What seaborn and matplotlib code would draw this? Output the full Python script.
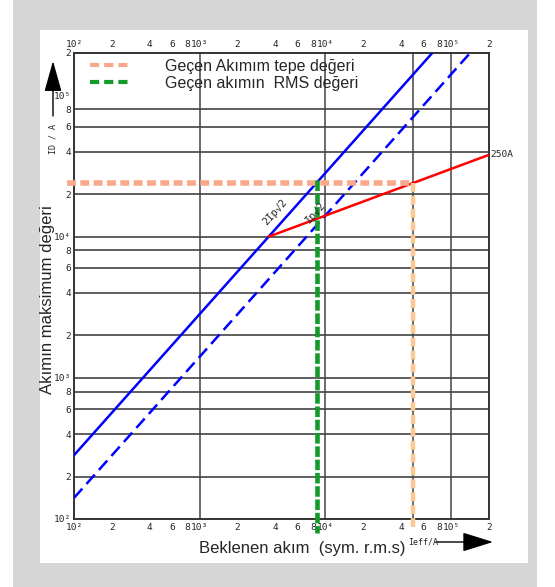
import numpy as np
import pandas as pd
import seaborn as sns
import matplotlib
matplotlib.use("Agg")
import matplotlib.pyplot as plt
from matplotlib.lines import Line2D
from matplotlib.patches import Rectangle
from matplotlib.ticker import FixedLocator, FixedFormatter, NullLocator

# ---------------- data ----------------
tick_values = [100, 200, 400, 600, 800, 1000, 2000, 4000, 6000, 8000,
               10000, 20000, 40000, 60000, 80000, 100000, 200000]
tick_labels = ["10²", "2", "4", "6", "8", "10³", "2", "4", "6", "8",
               "10⁴", "2", "4", "6", "8", "10⁵", "2"]
hgrid_values = [200, 400, 600, 800, 1000, 2000, 4000, 6000, 8000,
                10000, 20000, 40000, 60000, 80000]
vgrid_values = [1000, 10000, 50000, 100000]

# prospective current vs. peak lines
solid_x = [100, 70700]          # 2·Ip·√2
solid_y = [283, 200000]
dashed_x = [100, 141400]        # Ip·√2
dashed_y = [141, 200000]
red_x = [3536, 200000]          # 250A cut-off characteristic
red_y = [10000, 38000]

# reading lines
peak_h_x = [88, 50000]
peak_h_y = [24000, 24000]
peak_v_x = [50000, 50000]
peak_v_y = [24000, 86]
rms_v_x = [8500, 8500]
rms_v_y = [25200, 80]

legend_labels = ["Geçen Akımım tepe değeri", "Geçen akımın  RMS değeri"]

# ---------------- style ----------------
sns.set_theme(style="white")
plt.rcParams["font.family"] = ["Liberation Sans", "DejaVu Sans"]

W, H = 555, 587
fig = plt.figure(figsize=(W / 100, H / 100), dpi=100)
fig.patch.set_facecolor("white")

def fx(x):
    return x / W

def fy(y):
    return 1 - y / H

fig.patches.append(Rectangle((fx(13), 0), fx(537) - fx(13), 1,
                             transform=fig.transFigure, facecolor="#d6d6d6",
                             edgecolor="none", zorder=-10))
fig.patches.append(Rectangle((fx(40), fy(563)), fx(528) - fx(40), fy(30) - fy(563),
                             transform=fig.transFigure, facecolor="white",
                             edgecolor="none", zorder=-9))

ax = fig.add_axes([fx(74), fy(519), fx(489) - fx(74), fy(53) - fy(519)])
ax.set_facecolor("white")
ax.set_xscale("log")
ax.set_yscale("log")
ax.set_xlim(100, 200000)
ax.set_ylim(100, 200000)

for v in hgrid_values:
    ax.axhline(v, color="#333333", lw=1.1, zorder=1)
for v in vgrid_values:
    ax.axvline(v, color="#444444", lw=1.1, zorder=1)

common = dict(ax=ax, estimator=None, sort=False)
# characteristic lines
sns.lineplot(x=solid_x, y=solid_y, color="#0000ff", lw=1.8, zorder=3, **common)
sns.lineplot(x=dashed_x, y=dashed_y, color="#0000ff", lw=1.8,
             linestyle=(0, (5, 2.5)), zorder=3, **common)
sns.lineplot(x=red_x, y=red_y, color="#ff0000", lw=1.8, zorder=3, **common)

# reading lines
sns.lineplot(x=peak_h_x, y=peak_h_y, color="#f9a88a", lw=4,
             linestyle=(0, (1.6, 0.8)), clip_on=False, zorder=4, **common)
sns.lineplot(x=peak_v_x, y=peak_v_y, color="#fbc896", lw=3.2,
             linestyle=(0, (2.0, 0.9)), clip_on=False, zorder=4, **common)
sns.lineplot(x=rms_v_x, y=rms_v_y, color="#139a2b", lw=3.3,
             linestyle=(0, (2.3, 0.6)), clip_on=False, zorder=5, **common)

# ticks
mono = "DejaVu Sans Mono"
for axis in (ax.xaxis, ax.yaxis):
    axis.set_major_locator(FixedLocator(tick_values))
    axis.set_major_formatter(FixedFormatter(tick_labels))
    axis.set_minor_locator(NullLocator())
ax.tick_params(axis="x", which="both", length=0, pad=3, labelsize=6.8,
               top=False, labeltop=True, bottom=False, labelbottom=True)
ax.tick_params(axis="y", which="both", length=0, pad=2, labelsize=6.8,
               left=False, labelleft=True)
for lab in ax.xaxis.get_ticklabels() + ax.yaxis.get_ticklabels():
    lab.set_fontfamily(mono)

for s in ax.spines.values():
    s.set_color("#333333")
    s.set_linewidth(1.4)
    s.set_visible(True)

# annotations on lines
ax.text(3970, 14900, "2Ip√2", rotation=48, fontsize=7.5, family=mono,
        ha="center", va="center", zorder=6)
ax.text(8400, 14900, "Ip√2", rotation=48, fontsize=7.5, family=mono,
        ha="center", va="center", zorder=6)
ax.text(205000, 38000, "250A", fontsize=6.8, family=mono,
        ha="left", va="center", clip_on=False)

# legend
handles = [Line2D([], [], color="#f9a88a", lw=3, linestyle=(0, (2.2, 1.2))),
           Line2D([], [], color="#139a2b", lw=3, linestyle=(0, (2.2, 1.2)))]
fig.legend(handles, legend_labels, loc="upper left",
           bbox_to_anchor=(fx(90), fy(59)), frameon=False, fontsize=11.5,
           handlelength=2.4, handletextpad=2.3, labelspacing=0.12,
           borderpad=0, borderaxespad=0)

# axis titles
fig.text(fx(48), fy(300), "Akımın maksimum değeri", rotation=90,
         ha="center", va="center", fontsize=12)
fig.text(fx(302), fy(549), "Beklenen akım  (sym. r.m.s)",
         ha="center", va="center", fontsize=12)

# axis arrows
fig.text(fx(423), fy(542), "Ieff/A", fontsize=6, family=mono,
         ha="center", va="center")
ax.annotate("", xy=(fx(493), fy(542)), xytext=(fx(436), fy(542)),
            xycoords="figure fraction", textcoords="figure fraction",
            arrowprops=dict(arrowstyle="-|>,head_length=1.6,head_width=0.5",
                            color="black", lw=1, shrinkA=0, shrinkB=0))
ax.annotate("", xy=(fx(53), fy(61)), xytext=(fx(53), fy(116)),
            xycoords="figure fraction", textcoords="figure fraction",
            arrowprops=dict(arrowstyle="-|>,head_length=1.6,head_width=0.45",
                            color="black", lw=1, shrinkA=0, shrinkB=0))
fig.text(fx(53), fy(139), "ID / A", rotation=90, fontsize=6, family=mono,
         ha="center", va="center")

fig.savefig("out.png", dpi=100, facecolor=fig.get_facecolor())
